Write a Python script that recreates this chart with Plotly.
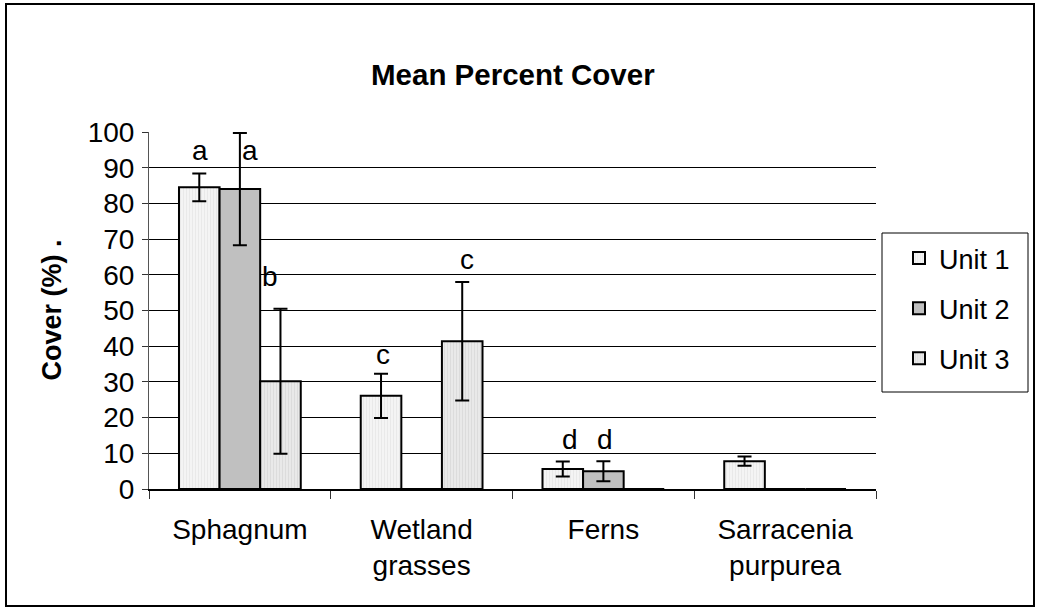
import plotly.graph_objects as go

# ---- data ----
categories = ["Sphagnum", "Wetland grasses", "Ferns", "Sarracenia purpurea"]
tick_text = ["Sphagnum", "Wetland<br>grasses", "Ferns", "Sarracenia<br>purpurea"]
series_names = ["Unit 1", "Unit 2", "Unit 3"]
unit1_mean = [84.5, 26.1, 5.6, 7.8]
unit1_err = [3.9, 6.2, 2.1, 1.3]
unit2_mean = [84.0, 0.0, 5.0, 0.0]
unit2_err = [15.7, 0.0, 2.8, 0.0]
unit3_mean = [30.2, 41.4, 0.0, 0.0]
unit3_err = [20.3, 16.6, 0.0, 0.0]

# significance letters: (text, category index, value)
letter_text = ["a", "a", "b", "c", "c", "d", "d"]
letter_cat = [0, 0, 0, 1, 1, 2, 2]
letter_val = [94.8, 94.8, 59.5, 37.8, 64.4, 14.0, 14.0]
# horizontal nudge of each letter within its group (category units)
letter_dx = [-0.22, 0.055, 0.165, -0.215, 0.25, -0.185, 0.01]

W, H = 1037, 609
L, R, T, B = 149, 161, 132, 120
PW, PH = W - L - R, H - T - B

def px_x(px):
    return (px - L) / PW

def px_y(py):
    return (H - B - py) / PH

FONT = "Liberation Sans, Arial, sans-serif"

styles = [
    dict(bgcolor="#f4f4f4", fgcolor="#dedede", shape="|", size=3, solidity=0.35),
    None,
    dict(bgcolor="#e9e9e9", fgcolor="#cfcfcf", shape="|", size=3, solidity=0.35),
]
fills = ["#f4f4f4", "#c0c0c0", "#e9e9e9"]
means = [unit1_mean, unit2_mean, unit3_mean]
errs = [unit1_err, unit2_err, unit3_err]

fig = go.Figure()
for name, m, e, fill, pat in zip(series_names, means, errs, fills, styles):
    marker = dict(color=fill, line=dict(color="black", width=2))
    if pat:
        marker["pattern"] = pat
    fig.add_trace(go.Bar(
        name=name, x=categories, y=m, legendgroup=name,
        marker=marker,
        error_y=dict(type="data", array=e, visible=True,
                     color="black", thickness=2, width=7),
    ))

annotations = []
for t, c, v, dx in zip(letter_text, letter_cat, letter_val, letter_dx):
    annotations.append(dict(
        x=c + dx, y=v, xref="x", yref="y", text=t, showarrow=False,
        font=dict(family=FONT, size=28, color="black"),
        xanchor="center", yanchor="middle",
    ))

annotations.append(dict(
    x=0.5, y=px_y(75), xref="paper", yref="paper",
    text="<b>Mean Percent Cover</b>", showarrow=False,
    font=dict(family=FONT, size=29.5, color="black"),
    xanchor="center", yanchor="middle",
))
annotations.append(dict(
    x=px_x(51), y=0.5, xref="paper", yref="paper",
    text="<b>Cover (%) .</b>", showarrow=False, textangle=-90,
    font=dict(family=FONT, size=27, color="black"),
    xanchor="center", yanchor="middle",
))

shapes = [
    # outer chart frame
    dict(type="rect", xref="paper", yref="paper",
         x0=px_x(6), x1=px_x(1034), y0=px_y(606), y1=px_y(4),
         line=dict(color="black", width=2), fillcolor="rgba(0,0,0,0)",
         layer="below"),
    # legend frame
    dict(type="rect", xref="paper", yref="paper",
         x0=px_x(882), x1=px_x(1028), y0=px_y(392), y1=px_y(233),
         line=dict(color="black", width=1), fillcolor="white",
         layer="below"),
]

fig.update_layout(
    width=W, height=H,
    margin=dict(l=L, r=R, t=T, b=B, pad=0),
    paper_bgcolor="white", plot_bgcolor="white",
    barmode="group", bargap=0.33, bargroupgap=0,
    font=dict(family=FONT, size=28, color="black"),
    showlegend=True,
    legend=dict(
        x=px_x(899), y=px_y(234), xanchor="left", yanchor="top",
        borderwidth=0, bgcolor="rgba(0,0,0,0)",
        font=dict(family=FONT, size=27, color="black"),
        tracegroupgap=12, traceorder="grouped",
        itemwidth=30,
    ),
    annotations=annotations,
    shapes=shapes,
)

fig.update_xaxes(
    type="category", tickmode="array", tickvals=categories, ticktext=tick_text,
    tickson="boundaries", ticks="outside", ticklen=8, tickwidth=1,
    tickcolor="#333", showline=True, linecolor="black", linewidth=2,
    showgrid=False, ticklabelstandoff=14,
    tickfont=dict(family=FONT, size=28, color="black"),
)
fig.update_yaxes(
    range=[0, 100], tickvals=list(range(0, 101, 10)),
    ticks="outside", ticklen=6, tickwidth=1, tickcolor="#333",
    showline=True, linecolor="#555", linewidth=1,
    showgrid=True, gridcolor="black", gridwidth=1,
    zeroline=False, ticklabelstandoff=2,
    tickfont=dict(family=FONT, size=28, color="black"),
)

fig.write_html("out.html")
